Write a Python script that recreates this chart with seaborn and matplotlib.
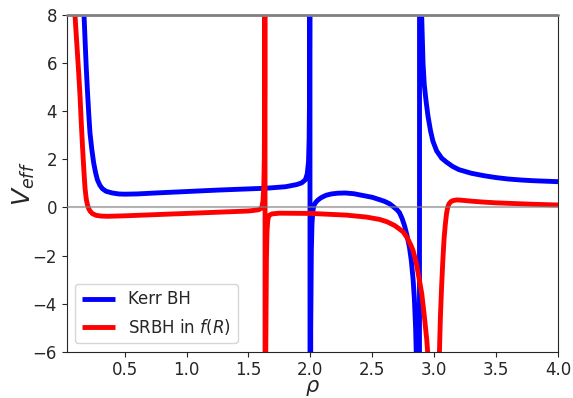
import matplotlib
matplotlib.use("Agg")
import matplotlib.pyplot as plt
import seaborn as sns
import pandas as pd

# Kerr BH curve (rho, V_eff); large values mark poles
kerr_rho = [0.165, 0.172, 0.18, 0.19, 0.20, 0.21, 0.22, 0.235, 0.25, 0.265, 0.28,
            0.30, 0.32, 0.35, 0.40, 0.45, 0.50, 0.60, 0.75, 1.00, 1.25, 1.50,
            1.65, 1.80, 1.89, 1.93, 1.96, 1.975, 1.985, 1.990, 1.993, 1.995,
            1.996, 1.998, 2.003, 2.008, 2.013, 2.020, 2.030, 2.045, 2.06, 2.08,
            2.10, 2.13, 2.17, 2.22, 2.28, 2.35, 2.42, 2.50, 2.56, 2.60, 2.64,
            2.67, 2.70, 2.72, 2.74, 2.76, 2.78, 2.80, 2.815, 2.83, 2.84, 2.85,
            2.86, 2.87, 2.877, 2.880, 2.883, 2.895, 2.90, 2.91, 2.92, 2.935,
            2.95, 2.97, 2.99, 3.02, 3.06, 3.10, 3.15, 3.20, 3.30, 3.40, 3.50,
            3.60, 3.70, 3.80, 3.90, 4.00]
kerr_V = [10.0, 8.0, 7.0, 5.8, 4.8, 3.9, 3.1, 2.4, 1.85, 1.45, 1.15,
          0.92, 0.78, 0.67, 0.60, 0.56, 0.55, 0.56, 0.60, 0.66, 0.72, 0.77,
          0.80, 0.86, 0.95, 1.02, 1.15, 1.40, 1.90, 2.8, 4.5, 10.0,
          60.0, -60.0, -5.0, -1.8, -0.7, -0.15, 0.10, 0.22, 0.30, 0.38,
          0.44, 0.51, 0.56, 0.59, 0.60, 0.57, 0.50, 0.42, 0.32, 0.25, 0.15,
          0.03, -0.10, -0.22, -0.45, -0.75, -1.15, -1.65, -2.2, -3.0, -3.8, -5.0,
          -7.0, -12.0, -30.0, -60.0, 60.0, 9.0, 7.8, 6.0, 5.1, 4.4,
          3.8, 3.2, 2.75, 2.35, 2.05, 1.88, 1.70, 1.57, 1.42, 1.32, 1.24,
          1.18, 1.14, 1.11, 1.09, 1.07]

# SRBH in f(R) curve
srbh_rho = [0.090, 0.099, 0.11, 0.12, 0.13, 0.14, 0.15, 0.16, 0.17, 0.18, 0.19,
            0.20, 0.21, 0.22, 0.24, 0.27, 0.31, 0.36, 0.43, 0.50, 0.75, 1.00,
            1.25, 1.50, 1.58, 1.60, 1.61, 1.618, 1.624, 1.628, 1.631, 1.633,
            1.635, 1.640, 1.645, 1.650, 1.655, 1.660, 1.670, 1.690, 1.75, 2.00,
            2.29, 2.45, 2.56, 2.62, 2.68, 2.72, 2.75, 2.78, 2.81, 2.83, 2.855,
            2.88, 2.90, 2.92, 2.94, 2.95, 2.97, 2.99, 3.01, 3.03, 3.04, 3.05,
            3.06, 3.07, 3.08, 3.09, 3.10, 3.11, 3.12, 3.135, 3.15, 3.18, 3.22,
            3.30, 3.40, 3.50, 3.60, 3.70, 3.80, 3.90, 4.00]
srbh_V = [10.0, 8.0, 7.1, 6.3, 5.5, 4.6, 3.5, 2.5, 1.6, 0.8, 0.35,
          0.10, -0.05, -0.15, -0.26, -0.33, -0.36, -0.37, -0.36, -0.35, -0.30, -0.25,
          -0.20, -0.15, -0.10, -0.05, 0.05, 0.30, 0.90, 2.0, 5.0, 60.0,
          -60.0, -6.0, -2.2, -1.0, -0.6, -0.42, -0.32, -0.27, -0.24, -0.25,
          -0.32, -0.40, -0.50, -0.60, -0.75, -0.90, -1.02, -1.25, -1.55, -1.80, -2.3,
          -3.0, -3.6, -4.5, -5.5, -6.2, -8.5, -15.0, -20.0, -8.5, -6.5, -4.6,
          -3.3, -2.2, -1.3, -0.7, -0.25, 0.02, 0.15, 0.24, 0.28, 0.31, 0.30,
          0.26, 0.22, 0.19, 0.17, 0.15, 0.13, 0.115, 0.10]

sns.set_style("ticks")
plt.rcParams['font.family'] = ['DejaVu Sans']

fig = plt.figure(figsize=(5.73, 3.98), dpi=100)
ax = fig.add_axes([0.1164, 0.1163, 0.8574, 0.846])

df_k = pd.DataFrame({"rho": kerr_rho, "V": kerr_V})
df_s = pd.DataFrame({"rho": srbh_rho, "V": srbh_V})

sns.lineplot(data=df_k, x="rho", y="V", ax=ax, color="blue", lw=3.5,
             sort=False, estimator=None, label="Kerr BH",
             solid_joinstyle="round", solid_capstyle="butt")
sns.lineplot(data=df_s, x="rho", y="V", ax=ax, color="red", lw=3.5,
             sort=False, estimator=None, label="SRBH in $f(R)$",
             solid_joinstyle="round", solid_capstyle="butt")

ax.axhline(0, color="gray", lw=1.5, alpha=0.6, zorder=3)
ax.axhline(8, color="gray", lw=2.0, zorder=4, clip_on=False)

ax.set_xlim(0.032, 4.0)
ax.set_ylim(-6, 8)
ax.set_xticks([0.5, 1.0, 1.5, 2.0, 2.5, 3.0, 3.5, 4.0])
ax.set_yticks([-6, -4, -2, 0, 2, 4, 6, 8])
ax.tick_params(labelsize=12)
ax.set_xlabel(r"$\rho$", fontsize=15, labelpad=-1)
ax.set_ylabel(r"$V_{eff}$", fontsize=18, labelpad=-3)
ax.legend(loc="lower left", fontsize=12, bbox_to_anchor=(0.0, 0.0))

fig.savefig("out.png", dpi=100)
